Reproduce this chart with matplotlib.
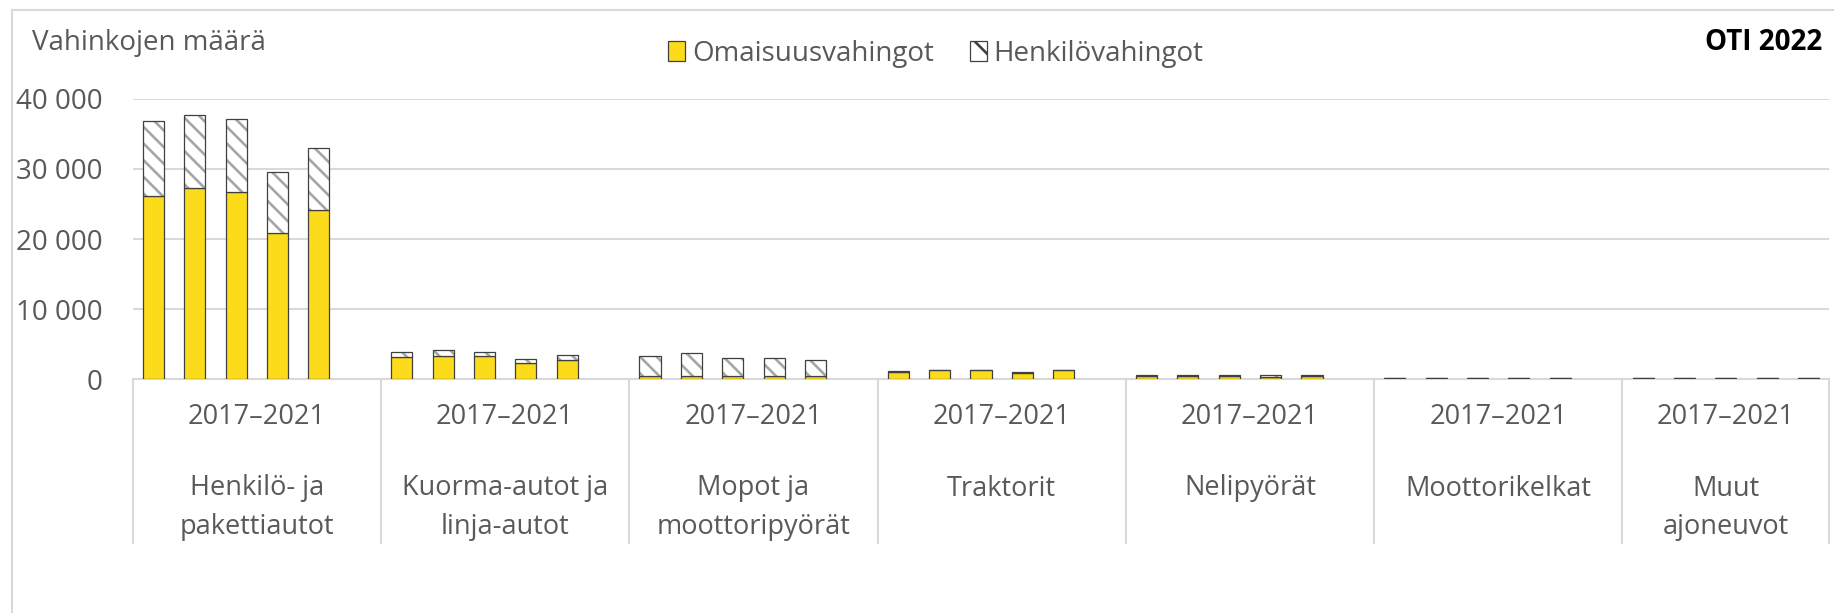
import numpy as np
import matplotlib
matplotlib.use("Agg")
from matplotlib import pyplot as plt
from matplotlib.patches import Patch
from matplotlib.lines import Line2D
import matplotlib.transforms as mtransforms

plt.rcParams['font.family'] = ['Open Sans', 'DejaVu Sans']

# data
categories = ["Henkilö- ja\npakettiautot", "Kuorma-autot ja\nlinja-autot", "Mopot ja\nmoottoripyörät",
              "Traktorit", "Nelipyörät", "Moottorikelkat", "Muut\najoneuvot"]
period_label = "2017–2021"
years = [2017, 2018, 2019, 2020, 2021]

omaisuus = [
    [26150, 27250, 26720, 20840, 24160],
    [3130, 3320, 3320, 2280, 2750],
    [500, 500, 450, 500, 450],
    [1100, 1300, 1300, 950, 1300],
    [500, 490, 500, 260, 490],
    [130, 130, 130, 130, 130],
    [120, 120, 120, 120, 120],
]
henkilo = [
    [10600, 10440, 10400, 8650, 8790],
    [800, 810, 610, 570, 670],
    [2860, 3200, 2540, 2490, 2340],
    [80, 70, 70, 50, 70],
    [60, 60, 60, 320, 60],
    [15, 15, 15, 15, 15],
    [15, 15, 15, 15, 15],
]
yticks = [0, 10000, 20000, 30000, 40000]

yellow = '#FCDC1A'
edge = '#404040'
hatch_gray = '#A6A6A6'
grid_gray = '#D9D9D9'
text_gray = '#595959'

W, H = 1834, 613
fig = plt.figure(figsize=(W / 100, H / 100), dpi=100)
left, right = 132.7, 1829.3
top, bottom = 98.7, 379.3
ax = fig.add_axes([left / W, 1 - bottom / H, (right - left) / W, (bottom - top) / H])

slots = 6
bw = 0.51
plt.rcParams['hatch.linewidth'] = 1.9

for i in range(len(categories)):
    xs = np.arange(len(years)) + i * slots + 0.5
    om = np.array(omaisuus[i])
    he = np.array(henkilo[i])
    ax.bar(xs, om, bw, color=yellow, edgecolor=edge, linewidth=0.9, zorder=3)
    ax.bar(xs, he, bw, bottom=om, color='white', edgecolor=hatch_gray, hatch='\\\\',
           linewidth=0, zorder=3)
    ax.bar(xs, he, bw, bottom=om, fill=False, edgecolor=edge, linewidth=0.9, zorder=4)

ax.set_xlim(0, 41)
ax.set_ylim(0, 40000)
ax.set_yticks(yticks)
ax.set_yticklabels([f"{v:,}".replace(",", " ") for v in yticks], fontsize=20, color=text_gray)
ax.tick_params(axis='y', length=0, pad=22)
ax.set_xticks([])
ax.grid(axis='y', color=grid_gray, linewidth=1.5, zorder=0)
ax.set_axisbelow(True)
for s in ['top', 'right', 'left']:
    ax.spines[s].set_visible(False)
ax.spines['bottom'].set_color(grid_gray)
ax.spines['bottom'].set_linewidth(1.5)

# category axis separators and labels
trans = mtransforms.blended_transform_factory(ax.transData, ax.transAxes)
sep_bottom = -(542.7 - bottom) / (bottom - top)
for xv in [0, 6, 12, 18, 24, 30, 36, 41]:
    ax.add_line(Line2D([xv, xv], [0, sep_bottom], transform=trans, color=grid_gray,
                       linewidth=1.5, clip_on=False))
y_period = -(416.5 - bottom) / (bottom - top)
y_cat = -(474.5 - bottom) / (bottom - top)
for i, name in enumerate(categories):
    cx = i * slots + 3 if i < len(categories) - 1 else 38.5
    ax.text(cx, y_period, period_label, transform=trans, ha='center', va='center',
            fontsize=19.5, color=text_gray)
    ax.text(cx, y_cat, name, transform=trans, ha='center', va='top',
            fontsize=19.5, color=text_gray, linespacing=1.48)

fig.text(31.6 / W, 1 - 43 / H, "Vahinkojen määrä", ha='left', va='center', fontsize=20, color=text_gray)
fig.text(1822 / W, 1 - 43 / H, "OTI 2022", ha='right', va='center', fontsize=20,
         fontweight='bold', color='black')

handles = [Patch(facecolor=yellow, edgecolor=edge, linewidth=0.9, label="Omaisuusvahingot"),
           Patch(facecolor='white', edgecolor=edge, hatch='\\', linewidth=0.9, label="Henkilövahingot")]
fig.legend(handles=handles, loc='center', bbox_to_anchor=(936 / W, 1 - 54 / H), ncol=2,
           frameon=False, fontsize=20, handlelength=0.6, handleheight=0.75,
           handletextpad=0.25, columnspacing=1.3, labelcolor=text_gray)

# outer chart border (cropped at right and bottom)
fig.add_artist(Line2D([12 / W, 12 / W], [0, 1 - 9.5 / H], color=grid_gray, linewidth=1.5))
fig.add_artist(Line2D([12 / W, 1], [1 - 9.5 / H, 1 - 9.5 / H], color=grid_gray, linewidth=1.5))

fig.savefig('out.png', dpi=100)
